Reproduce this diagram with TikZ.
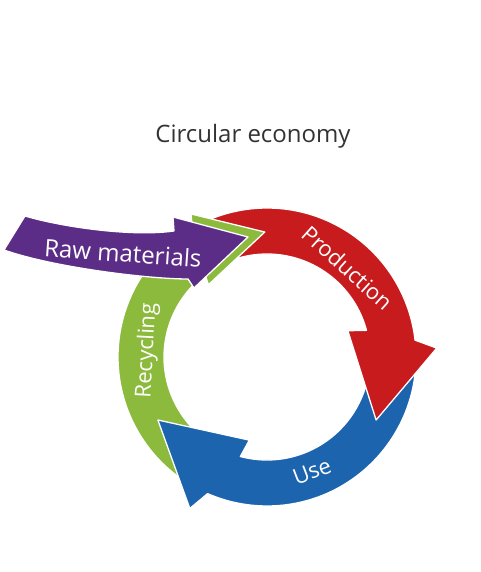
\documentclass[tikz,border=0pt]{standalone}
\usepackage{fontspec}
\setmainfont{Open Sans}

\definecolor{rawpurple}{HTML}{5C2D87}
\definecolor{prodred}{HTML}{C71B1E}
\definecolor{useblue}{HTML}{1C65AE}
\definecolor{recgreen}{HTML}{8CBA3C}
\definecolor{titlegray}{HTML}{333333}

% 円環上の矢印の輪郭（#1 = 尾の角度, #2 = 先端の角度）
\newcommand{\ringpath}[2]{%
  (#1:149pt) arc[start angle=#1, end angle=#2+36.5, radius=149pt]
  -- (#2+33:170pt) -- (#2:126pt) -- (#2+48:85pt) -- (#2+45:103pt)
  arc[start angle=#2+45, end angle=#1, radius=103pt] -- cycle}

\begin{document}
\begin{tikzpicture}[
    x=1pt, y=1pt,                 % 座標はピクセル相当
    band/.style={draw=white, line width=1.3pt, line join=round},
    ringtext/.style={text=white, font=\fontsize{22}{26}\selectfont}
]
    \useasboundingbox (-267,-215) rectangle (214,357);

    % --- 1. タイトル ---
    \node [text=titlegray, font=\fontsize{24}{28}\selectfont] (title) at (-14,221) {Circular economy};

    % --- 2. 円環の矢印（重なり順に描く） ---
    \fill [useblue, band] \ringpath{4}{-150};     % Use
    \fill [prodred, band] \ringpath{115}{-30};    % Production
    % Recycling（先端は赤の尾の上）
    \fill [recgreen, band] (235:149pt) arc[start angle=235, end angle=120, radius=149pt]
        -- (118:162pt) -- (91:125pt) -- (129:93pt) -- (127:103pt)
        arc[start angle=127, end angle=235, radius=103pt] -- cycle;
    % 青の先端を緑の尾の上にもう一度
    \begin{scope}
        \clip (-267,-215) rectangle (0,0);
        \fill [useblue, band] \ringpath{4}{-150};
    \end{scope}

    % --- 3. 原材料の矢印 ---
    \fill [rawpurple, band] (-242,141)
        .. controls (-205,130) and (-135,120) .. (-93,126)
        -- (-94,140) -- (-19,120) -- (-73,69) -- (-79,78)
        .. controls (-120,78) and (-215,90) .. (-263,107) -- cycle;

    % --- 4. ラベル ---
    \node [ringtext, font=\fontsize{24}{28}\selectfont, rotate=-4] (raw) at (-144,104) {Raw materials};
    \node [ringtext, rotate=-42] (prod) at (48:120pt) {Production};
    \node [ringtext, rotate=21] (use) at (-68.6:123pt) {Use};
    \node [ringtext, rotate=87] (recyc) at (177:120pt) {Recycling};

\end{tikzpicture}
\end{document}
